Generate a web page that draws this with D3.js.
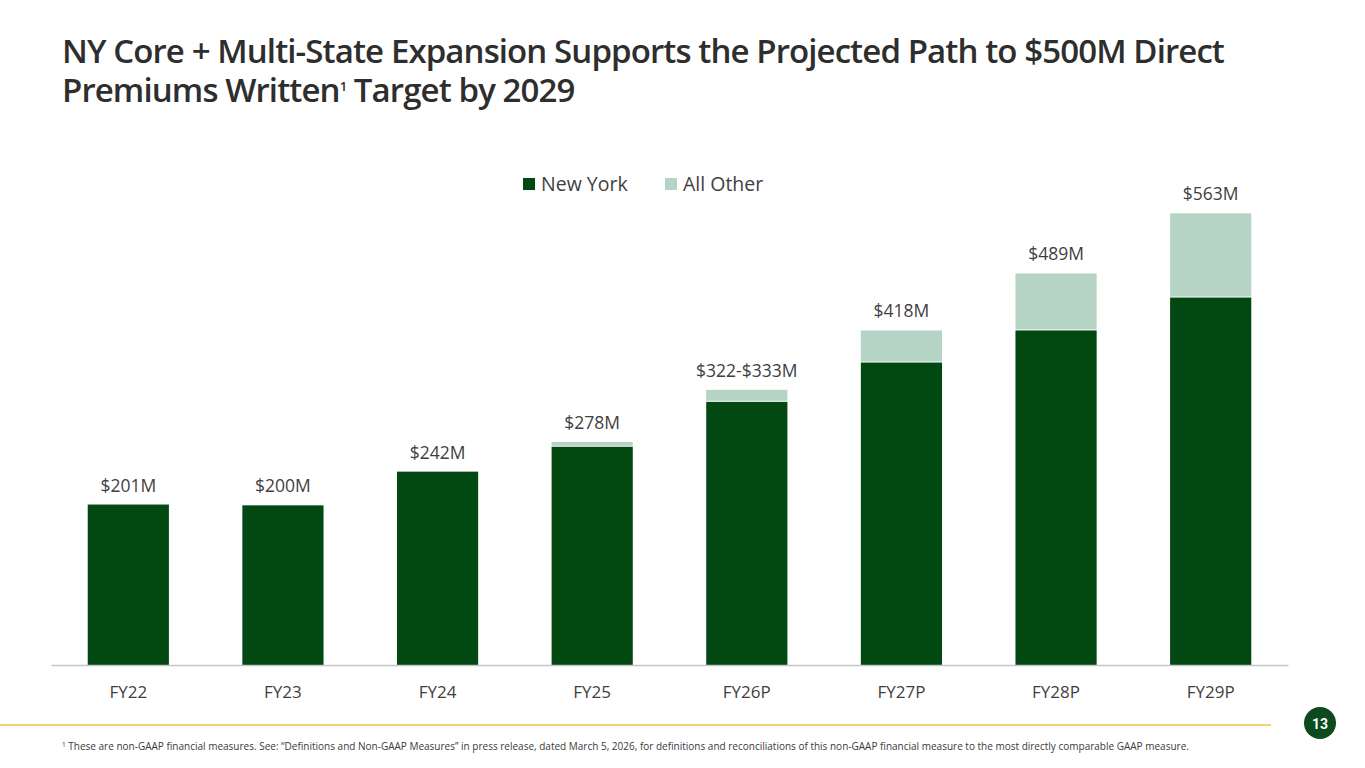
<!DOCTYPE html>
<html>
<head>
<meta charset="utf-8">
<script src="https://cdn.jsdelivr.net/npm/d3@7"></script>
<style>
    body { margin: 0; background: #fff; }
    svg { display: block; font-family: "Open Sans", sans-serif; }
</style>
</head>
<body>
<svg id="chart" width="1365" height="768"></svg>
<script>
// chart values
const categories = ['FY22', 'FY23', 'FY24', 'FY25', 'FY26P', 'FY27P', 'FY28P', 'FY29P'];
const newYork = [200, 199, 241, 272, 328, 377, 417, 458];
const allOther = [0, 0, 0, 6, 15, 40, 71, 105];
const totalLabels = ['$201M', '$200M', '$242M', '$278M', '$322-$333M', '$418M', '$489M', '$563M'];
const seriesNames = ['New York', 'All Other'];

const darkGreen = '#014813';
const lightGreen = '#b5d4c5';
const textColor = '#3f3f3f';

let svg = d3.select('#chart');

// title
let title = svg.append('text')
    .attr('x', 62)
    .attr('fill', '#2e2e2e')
    .style('font-size', '33px')
    .style('font-weight', 600)
    .style('letter-spacing', '-0.9px');
title.append('tspan').attr('x', 62).attr('y', 63)
    .text('NY Core + Multi-State Expansion Supports the Projected Path to $500M Direct');
title.append('tspan').attr('x', 62).attr('y', 102).text('Premiums Written');
title.append('tspan').attr('dy', -11).style('font-size', '13px').text('1');
title.append('tspan').attr('dy', 11).text(' Target by 2029');

// scales
let xScale = d3.scaleBand()
    .domain(categories)
    .range([51, 1288])
    .paddingInner(0.475)
    .paddingOuter(0.2375);

let yScale = d3.scaleLinear()
    .domain([0, 563])
    .range([665, 213.3]);

let data = categories.map(function (c, i) {
    return {cat: c, ny: newYork[i], other: allOther[i], label: totalLabels[i]};
});

// bars
let bars = svg.append('g').attr('id', 'bars');

bars.selectAll('rect.ny')
    .data(data)
    .enter().append('rect')
    .attr('class', 'ny')
    .attr('x', d => xScale(d.cat))
    .attr('y', d => yScale(d.ny))
    .attr('width', xScale.bandwidth())
    .attr('height', d => yScale(0) - yScale(d.ny))
    .attr('fill', darkGreen);

bars.selectAll('rect.other')
    .data(data.filter(d => d.other > 0))
    .enter().append('rect')
    .attr('class', 'other')
    .attr('x', d => xScale(d.cat))
    .attr('y', d => yScale(d.ny + d.other))
    .attr('width', xScale.bandwidth())
    .attr('height', d => Math.max(0, yScale(d.ny) - yScale(d.ny + d.other) - 1))
    .attr('fill', lightGreen);

// total labels
bars.selectAll('text.total')
    .data(data)
    .enter().append('text')
    .attr('class', 'total')
    .attr('x', d => xScale(d.cat) + xScale.bandwidth() / 2)
    .attr('y', d => yScale(d.ny + d.other) - 13)
    .attr('text-anchor', 'middle')
    .attr('fill', textColor)
    .style('font-size', '17.5px')
    .text(d => d.label);

// x axis
let xAxis = d3.axisBottom(xScale).tickSize(0).tickPadding(21);
let xAxisG = svg.append('g')
    .attr('id', 'xAxis')
    .attr('transform', 'translate(0,' + yScale(0) + ')')
    .call(xAxis);
xAxisG.select('.domain').attr('stroke', '#c6c6c6').attr('stroke-width', 1.3);
xAxisG.selectAll('text')
    .attr('fill', textColor)
    .style('font-size', '17px')
    .style('font-family', '"Open Sans", sans-serif');

// legend
let legendColors = [darkGreen, lightGreen];
let legendX = [523, 665];
let legend = svg.append('g').attr('id', 'legend');
let items = legend.selectAll('g')
    .data(seriesNames)
    .enter().append('g')
    .attr('transform', (d, i) => 'translate(' + legendX[i] + ',178)');
items.append('rect')
    .attr('width', 12).attr('height', 12)
    .attr('fill', (d, i) => legendColors[i]);
items.append('text')
    .attr('x', 18).attr('y', 12.5)
    .attr('fill', textColor)
    .style('font-size', '19.5px')
    .text(d => d);

// footer rule + page number
svg.append('line')
    .attr('x1', 0).attr('x2', 1271)
    .attr('y1', 725).attr('y2', 725)
    .attr('stroke', '#efc14a').attr('stroke-width', 1.5);

svg.append('circle')
    .attr('cx', 1320).attr('cy', 723).attr('r', 16)
    .attr('fill', '#0b4a1c');
svg.append('text')
    .attr('x', 1320).attr('y', 728.5)
    .attr('text-anchor', 'middle')
    .attr('fill', '#fff')
    .style('font-size', '14px')
    .style('font-weight', 700)
    .style('font-family', 'Roboto, sans-serif')
    .text('13');

// footnote
let foot = svg.append('text')
    .attr('x', 62).attr('y', 750)
    .attr('fill', '#3a3a3a')
    .style('font-size', '10px');
foot.append('tspan').attr('dy', -3).style('font-size', '6.5px').text('1');
foot.append('tspan').attr('dy', 3)
    .text(' These are non-GAAP financial measures. See: \u201cDefinitions and Non-GAAP Measures\u201d in press release, dated March 5, 2026, for definitions and reconciliations of this non-GAAP financial measure to the most directly comparable GAAP measure.');
</script>
</body>
</html>
